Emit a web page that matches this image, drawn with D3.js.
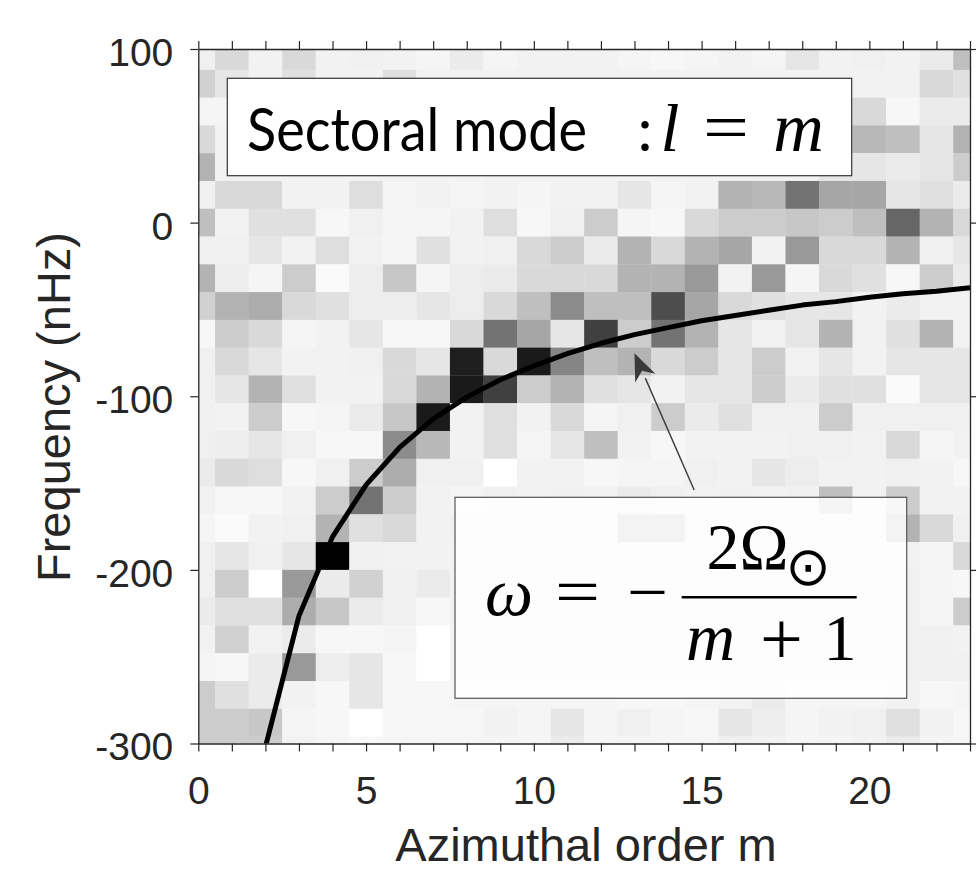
<!DOCTYPE html>
<html>
<head>
<meta charset="utf-8">
<script src="https://cdn.jsdelivr.net/npm/d3@7/dist/d3.min.js"></script>
<style>
  body { margin: 0; background: #fff; }
</style>
</head>
<body>
<div id="chart"></div>
<script>
// azimuthal orders (columns) and frequency bin centres in nHz (rows, top to bottom)
const mOrders = [0, 1, 2, 3, 4, 5, 6, 7, 8, 9, 10, 11, 12, 13, 14, 15, 16, 17, 18, 19, 20, 21, 22, 23];
const freqBins = [96, 80, 64, 48, 32, 16, 0, -16, -32, -48, -64, -80, -96, -112, -128, -144,
                  -160, -176, -192, -208, -224, -240, -256, -272, -288, -304];
const binHalf = 8;

// normalised power, 0 = white, 1 = black (one row per freqBin)
const power = [
  [0.06,0.15,0.05,0.15,0.05,0.06,0.05,0.04,0.08,0.04,0.05,0.05,0.05,0.04,0.03,0.04,0.05,0.04,0.10,0.05,0.06,0.05,0.08,0.25],
  [0.18,0.10,0.05,0.12,0.05,0.05,0.12,0.05,0.05,0.05,0.05,0.05,0.05,0.05,0.05,0.05,0.05,0.05,0.05,0.05,0.05,0.05,0.15,0.12],
  [0.04,0.04,0.05,0.05,0.05,0.05,0.05,0.05,0.05,0.05,0.05,0.05,0.05,0.05,0.05,0.05,0.05,0.05,0.05,0.10,0.15,0.03,0.08,0.08],
  [0.15,0.05,0.05,0.05,0.05,0.05,0.05,0.05,0.05,0.05,0.05,0.05,0.05,0.05,0.05,0.05,0.05,0.05,0.05,0.20,0.28,0.25,0.10,0.30],
  [0.30,0.05,0.05,0.05,0.05,0.05,0.05,0.05,0.05,0.05,0.05,0.05,0.05,0.05,0.05,0.05,0.05,0.05,0.05,0.10,0.10,0.08,0.10,0.20],
  [0.06,0.15,0.15,0.05,0.05,0.13,0.04,0.05,0.04,0.05,0.04,0.05,0.05,0.10,0.04,0.05,0.30,0.28,0.55,0.35,0.35,0.10,0.12,0.08],
  [0.25,0.05,0.12,0.12,0.03,0.06,0.04,0.04,0.05,0.13,0.03,0.06,0.20,0.04,0.03,0.15,0.20,0.20,0.22,0.20,0.25,0.60,0.30,0.15],
  [0.06,0.06,0.10,0.05,0.13,0.05,0.04,0.12,0.05,0.06,0.15,0.20,0.08,0.30,0.15,0.30,0.35,0.05,0.40,0.15,0.15,0.30,0.06,0.10],
  [0.30,0.07,0.04,0.20,0.02,0.07,0.22,0.04,0.07,0.08,0.15,0.15,0.15,0.30,0.30,0.40,0.05,0.40,0.04,0.15,0.12,0.03,0.20,0.08],
  [0.18,0.30,0.32,0.15,0.12,0.07,0.07,0.10,0.07,0.15,0.25,0.45,0.25,0.25,0.70,0.35,0.15,0.12,0.10,0.10,0.05,0.08,0.05,0.05],
  [0.03,0.20,0.15,0.04,0.05,0.10,0.03,0.03,0.15,0.55,0.35,0.10,0.75,0.20,0.55,0.30,0.10,0.05,0.10,0.30,0.05,0.12,0.30,0.05],
  [0.06,0.15,0.10,0.05,0.05,0.06,0.15,0.10,0.88,0.15,0.90,0.48,0.25,0.30,0.15,0.20,0.10,0.20,0.05,0.10,0.05,0.10,0.10,0.10],
  [0.06,0.10,0.30,0.12,0.05,0.05,0.15,0.30,0.90,0.75,0.20,0.30,0.12,0.10,0.05,0.10,0.10,0.20,0.08,0.12,0.12,0.02,0.10,0.10],
  [0.06,0.05,0.20,0.03,0.04,0.08,0.22,0.90,0.05,0.12,0.05,0.15,0.04,0.06,0.20,0.08,0.12,0.06,0.06,0.20,0.06,0.06,0.06,0.06],
  [0.06,0.07,0.10,0.06,0.03,0.03,0.45,0.28,0.05,0.12,0.04,0.10,0.25,0.05,0.03,0.05,0.05,0.05,0.06,0.06,0.05,0.15,0.04,0.05],
  [0.08,0.15,0.13,0.03,0.06,0.20,0.32,0.06,0.06,0.00,0.05,0.05,0.03,0.04,0.04,0.06,0.05,0.10,0.07,0.05,0.05,0.06,0.05,0.03],
  [0.05,0.03,0.03,0.05,0.20,0.55,0.20,0.05,0.04,0.06,0.05,0.06,0.05,0.08,0.06,0.05,0.06,0.05,0.06,0.25,0.05,0.20,0.05,0.05],
  [0.04,0.02,0.05,0.06,0.30,0.12,0.15,0.05,0.06,0.05,0.06,0.05,0.05,0.30,0.30,0.05,0.06,0.05,0.06,0.05,0.06,0.30,0.15,0.06],
  [0.06,0.10,0.06,0.10,1.00,0.06,0.05,0.05,0.05,0.06,0.05,0.06,0.05,0.06,0.05,0.06,0.05,0.06,0.05,0.06,0.05,0.05,0.04,0.15],
  [0.06,0.20,0.00,0.40,0.08,0.18,0.06,0.08,0.05,0.06,0.05,0.06,0.05,0.06,0.05,0.06,0.05,0.06,0.05,0.06,0.05,0.06,0.04,0.03],
  [0.08,0.12,0.12,0.32,0.22,0.08,0.06,0.03,0.05,0.06,0.05,0.06,0.05,0.06,0.05,0.06,0.05,0.06,0.05,0.06,0.05,0.06,0.04,0.20],
  [0.05,0.18,0.05,0.08,0.03,0.03,0.04,0.00,0.05,0.06,0.05,0.06,0.05,0.06,0.05,0.06,0.05,0.06,0.05,0.06,0.05,0.06,0.06,0.05],
  [0.04,0.03,0.08,0.40,0.07,0.10,0.03,0.00,0.05,0.06,0.05,0.06,0.05,0.06,0.05,0.06,0.05,0.06,0.05,0.06,0.05,0.06,0.06,0.06],
  [0.20,0.12,0.08,0.05,0.03,0.10,0.03,0.03,0.04,0.04,0.04,0.04,0.04,0.03,0.03,0.04,0.05,0.08,0.04,0.04,0.04,0.05,0.03,0.04],
  [0.20,0.20,0.22,0.04,0.03,0.00,0.03,0.03,0.03,0.05,0.04,0.10,0.04,0.06,0.04,0.03,0.10,0.07,0.04,0.05,0.06,0.12,0.05,0.03],
  [0.20,0.20,0.20,0.05,0.04,0.03,0.04,0.04,0.04,0.04,0.04,0.08,0.04,0.04,0.04,0.04,0.06,0.05,0.04,0.04,0.05,0.08,0.04,0.04]
];

// sectoral dispersion curve  w = -2 Omega / (m+1), read at integer m
const curveM    = [2, 3, 4, 5, 6, 7, 8, 9, 10, 11, 12, 13, 14, 15, 16, 17, 18, 19, 20, 21, 22, 23];
const curveFreq = [-302, -226.5, -181, -151, -129.5, -113, -100.5, -90.5, -82.5, -75.5, -69.5,
                   -64.5, -60.5, -56.5, -53.5, -50.5, -47.5, -45.5, -43, -41, -39.5, -37.5];

const xTickLabels = [0, 5, 10, 15, 20];
const yTickLabels = [-300, -200, -100, 0, 100];

const width = 976;
const height = 873;
const axisColor = "#262626";

const x = d3.scaleLinear().domain([0, 23]).range([198.3, 970]);
const y = d3.scaleLinear().domain([-300, 100]).range([743.5, 49]);
const grey = d3.scaleLinear().domain([0, 1]).range(["#ffffff", "#000000"]);

const svg = d3.select("#chart").append("svg")
    .attr("width", width)
    .attr("height", height)
    .style("font-family", "'Liberation Sans', Arial, sans-serif");

svg.append("clipPath").attr("id", "plotClip")
  .append("rect")
    .attr("x", x(0)).attr("y", y(100))
    .attr("width", x(23) - x(0)).attr("height", y(-300) - y(100));

const cells = [];
freqBins.forEach((f, i) => {
    mOrders.forEach((m, j) => cells.push({ m, f, v: power[i][j] }));
});

const plot = svg.append("g").attr("clip-path", "url(#plotClip)");

plot.selectAll("rect.cell")
    .data(cells)
    .enter()
    .append("rect")
    .attr("class", "cell")
    .attr("x", d => x(d.m - 0.5))
    .attr("y", d => y(d.f + binHalf))
    .attr("width", d => x(d.m + 0.5) - x(d.m - 0.5) + 0.3)
    .attr("height", d => y(d.f - binHalf) - y(d.f + binHalf) + 0.3)
    .attr("fill", d => grey(d.v));

const line = d3.line()
    .x(d => x(d[0]))
    .y(d => y(d[1]));

plot.append("path")
    .datum(curveM.map((m, i) => [m, curveFreq[i]]))
    .attr("d", line)
    .attr("fill", "none")
    .attr("stroke", "#000")
    .attr("stroke-width", 5)
    .attr("stroke-linejoin", "round");

// axes, all four sides, ticks outward like the figure
const allM = mOrders;

const styleAxis = g => {
    g.select(".domain").attr("stroke", axisColor).attr("stroke-width", 1.3);
    g.selectAll(".tick line").attr("stroke", axisColor).attr("stroke-width", 1.2);
    g.selectAll(".tick text")
        .attr("fill", axisColor)
        .style("font-size", "39px")
        .style("font-family", "'Liberation Sans', Arial, sans-serif");
};

svg.append("g")
    .attr("transform", `translate(0,${y(-300)})`)
    .call(d3.axisBottom(x).tickValues(allM)
        .tickFormat(d => xTickLabels.includes(d) ? String(d) : "")
        .tickSize(8).tickSizeOuter(0).tickPadding(25))
    .call(styleAxis);

svg.append("g")
    .attr("transform", `translate(0,${y(100)})`)
    .call(d3.axisTop(x).tickValues(allM).tickFormat("").tickSize(8).tickSizeOuter(0))
    .call(styleAxis);

svg.append("g")
    .attr("transform", `translate(${x(0)},0)`)
    .call(d3.axisLeft(y).tickValues(yTickLabels).tickFormat(d => String(d))
        .tickSize(8).tickSizeOuter(0).tickPadding(17))
    .call(styleAxis)
    .call(g => g.selectAll(".tick text").attr("dy", "0.42em"));

svg.append("g")
    .attr("transform", `translate(${x(23)},0)`)
    .call(d3.axisRight(y).tickValues(yTickLabels).tickFormat("").tickSize(8).tickSizeOuter(0))
    .call(styleAxis);

svg.append("text")
    .attr("x", 586).attr("y", 861)
    .attr("text-anchor", "middle")
    .attr("fill", axisColor)
    .style("font-size", "47px")
    .text("Azimuthal order m");

svg.append("text")
    .attr("transform", "translate(70,407) rotate(-90)")
    .attr("text-anchor", "middle")
    .attr("fill", axisColor)
    .style("font-size", "47px")
    .text("Frequency (nHz)");

// "Sectoral mode" label box
svg.append("rect")
    .attr("x", 227.3).attr("y", 78.3)
    .attr("width", 624.4).attr("height", 97.4)
    .attr("fill", "#fff")
    .attr("stroke", "#333").attr("stroke-width", 1.2);

const mathFont = "'Liberation Serif', 'Times New Roman', serif";

svg.append("text")
    .attr("x", 247).attr("y", 151)
    .attr("textLength", 340).attr("lengthAdjust", "spacingAndGlyphs")
    .style("font-family", "Lato, 'Open Sans', sans-serif")
    .style("font-size", "60px")
    .attr("fill", "#000")
    .text("Sectoral mode");

svg.append("text")
    .attr("x", 645).attr("y", 151).attr("text-anchor", "middle")
    .style("font-family", "Lato, 'Open Sans', sans-serif")
    .style("font-size", "60px")
    .text(":");

svg.append("text")
    .attr("x", 670).attr("y", 151).attr("text-anchor", "middle")
    .style("font-family", mathFont)
    .style("font-style", "italic")
    .style("font-size", "68px")
    .text("l");

svg.append("text")
    .attr("x", 703).attr("y", 150)
    .attr("textLength", 46).attr("lengthAdjust", "spacingAndGlyphs")
    .style("font-family", mathFont)
    .style("font-size", "68px")
    .text("=");

svg.append("text")
    .attr("x", 798.5).attr("y", 151).attr("text-anchor", "middle")
    .style("font-family", mathFont)
    .style("font-style", "italic")
    .style("font-size", "70px")
    .text("m");

// formula box (semi transparent, like the figure)
svg.append("rect")
    .attr("x", 455).attr("y", 497.3)
    .attr("width", 451.7).attr("height", 201)
    .attr("fill", "#fff").attr("fill-opacity", 0.84)
    .attr("stroke", "#555").attr("stroke-width", 1.2);

const formula = svg.append("g")
    .style("font-family", mathFont)
    .attr("fill", "#000");

formula.append("text")
    .attr("x", 509).attr("y", 615).attr("text-anchor", "middle")
    .style("font-style", "italic").style("font-size", "68px")
    .text("ω");

formula.append("text")
    .attr("x", 555).attr("y", 614)
    .attr("textLength", 45).attr("lengthAdjust", "spacingAndGlyphs")
    .style("font-size", "66px")
    .text("=");

formula.append("text")
    .attr("x", 627).attr("y", 614)
    .attr("textLength", 41).attr("lengthAdjust", "spacingAndGlyphs")
    .style("font-size", "66px")
    .text("−");

formula.append("line")
    .attr("x1", 681.7).attr("x2", 856.7)
    .attr("y1", 597.3).attr("y2", 597.3)
    .attr("stroke", "#000").attr("stroke-width", 2.4);

formula.append("text")
    .attr("x", 747.5).attr("y", 569.3).attr("text-anchor", "middle")
    .style("font-size", "66px")
    .text("2Ω");

formula.append("text")
    .attr("x", 808).attr("y", 585).attr("text-anchor", "middle")
    .style("font-family", "'DejaVu Sans', sans-serif")
    .style("font-size", "54px")
    .text("⊙");

formula.append("text")
    .attr("x", 710.5).attr("y", 660).attr("text-anchor", "middle")
    .style("font-style", "italic").style("font-size", "68px")
    .text("m");

formula.append("text")
    .attr("x", 781.5).attr("y", 664).attr("text-anchor", "middle")
    .style("font-size", "76px")
    .text("+");

formula.append("text")
    .attr("x", 840).attr("y", 660).attr("text-anchor", "middle")
    .style("font-size", "66px")
    .text("1");

// arrow from the formula box to the curve
const arrowTail = [14.78, -154];
const arrowTip = [13.0, -75.3];
const tx = x(arrowTail[0]), ty = y(arrowTail[1]);
const hx = x(arrowTip[0]), hy = y(arrowTip[1]);
const ang = Math.atan2(hy - ty, hx - tx);
const headLen = 27, headHalf = 11;
const bx = hx - headLen * Math.cos(ang), by = hy - headLen * Math.sin(ang);

svg.append("line")
    .attr("x1", tx).attr("y1", ty)
    .attr("x2", bx).attr("y2", by)
    .attr("stroke", "#3a3a3a").attr("stroke-width", 1.4);

svg.append("path")
    .attr("d", `M${hx},${hy}` +
        `L${bx + headHalf * Math.sin(ang)},${by - headHalf * Math.cos(ang)}` +
        `L${bx + 0.3 * headLen * Math.cos(ang)},${by + 0.3 * headLen * Math.sin(ang)}` +
        `L${bx - headHalf * Math.sin(ang)},${by + headHalf * Math.cos(ang)}Z`)
    .attr("fill", "#3a3a3a");
</script>
</body>
</html>
